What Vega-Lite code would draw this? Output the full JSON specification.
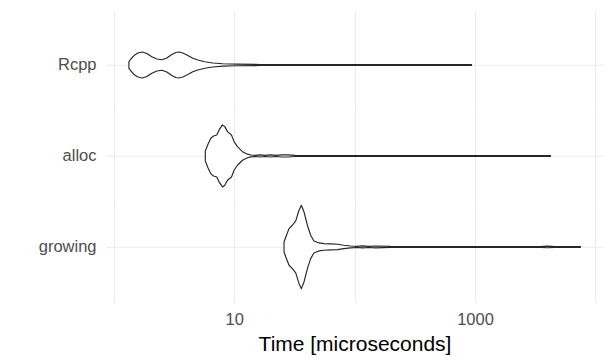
{
  "$schema": "https://vega.github.io/schema/vega-lite/v6.json",
  "background": "white",
  "padding": {"left": 38, "top": 10.7, "right": 5, "bottom": 5},
  "spacing": 0,
  "config": {
    "view": {"stroke": null},
    "font": "Liberation Sans",
    "axis": {
      "gridColor": "#ebebeb",
      "gridWidth": 1.1,
      "ticks": false,
      "domain": false,
      "labelColor": "#4d4d4d",
      "labelFontSize": 16.5,
      "labelFont": "Liberation Sans",
      "labelPadding": 10,
      "titleColor": "#000000",
      "titleFontSize": 21,
      "titleFontWeight": "normal",
      "titleFont": "Liberation Sans"
    }
  },
  "datasets": {
    "violin": [
      {"g": "Rcpp", "t": 1.332, "hi": 3.2, "lo": -3.2},
      {"g": "Rcpp", "t": 1.384, "hi": 6, "lo": -6},
      {"g": "Rcpp", "t": 1.48, "hi": 9.8, "lo": -9.8},
      {"g": "Rcpp", "t": 1.582, "hi": 12, "lo": -12},
      {"g": "Rcpp", "t": 1.724, "hi": 13, "lo": -13},
      {"g": "Rcpp", "t": 1.878, "hi": 11.5, "lo": -11.5},
      {"g": "Rcpp", "t": 2.067, "hi": 8.3, "lo": -8.3},
      {"g": "Rcpp", "t": 2.275, "hi": 6, "lo": -6},
      {"g": "Rcpp", "t": 2.502, "hi": 5.2, "lo": -5.2},
      {"g": "Rcpp", "t": 2.754, "hi": 7, "lo": -7},
      {"g": "Rcpp", "t": 3.029, "hi": 10.5, "lo": -10.5},
      {"g": "Rcpp", "t": 3.269, "hi": 12.5, "lo": -12.5},
      {"g": "Rcpp", "t": 3.462, "hi": 13, "lo": -13},
      {"g": "Rcpp", "t": 3.738, "hi": 12, "lo": -12},
      {"g": "Rcpp", "t": 4.113, "hi": 9.5, "lo": -9.5},
      {"g": "Rcpp", "t": 4.525, "hi": 6.8, "lo": -6.8},
      {"g": "Rcpp", "t": 4.979, "hi": 5, "lo": -5},
      {"g": "Rcpp", "t": 5.69, "hi": 3.2, "lo": -3.2},
      {"g": "Rcpp", "t": 6.632, "hi": 2, "lo": -2},
      {"g": "Rcpp", "t": 8.027, "hi": 1.2, "lo": -1.2},
      {"g": "Rcpp", "t": 10.29, "hi": 0.8, "lo": -0.8},
      {"g": "Rcpp", "t": 16.6, "hi": 0.5, "lo": -0.5},
      {"g": "Rcpp", "t": 92.6, "hi": 0.45, "lo": -0.45},
      {"g": "Rcpp", "t": 935, "hi": 0.4, "lo": -0.4},

      {"g": "alloc", "t": 5.745, "hi": 5, "lo": -5},
      {"g": "alloc", "t": 6.06, "hi": 12, "lo": -12},
      {"g": "alloc", "t": 6.38, "hi": 17.7, "lo": -17.7},
      {"g": "alloc", "t": 6.72, "hi": 20, "lo": -20},
      {"g": "alloc", "t": 7.16, "hi": 21, "lo": -21},
      {"g": "alloc", "t": 7.48, "hi": 26, "lo": -26},
      {"g": "alloc", "t": 7.98, "hi": 31, "lo": -31},
      {"g": "alloc", "t": 8.34, "hi": 29.3, "lo": -29.3},
      {"g": "alloc", "t": 8.78, "hi": 24.3, "lo": -24.3},
      {"g": "alloc", "t": 9.48, "hi": 21, "lo": -21},
      {"g": "alloc", "t": 9.96, "hi": 14.3, "lo": -14.3},
      {"g": "alloc", "t": 10.63, "hi": 9.3, "lo": -9.3},
      {"g": "alloc", "t": 11.7, "hi": 4.3, "lo": -4.3},
      {"g": "alloc", "t": 12.87, "hi": 1.8, "lo": -1.8},
      {"g": "alloc", "t": 13.71, "hi": 0.9, "lo": -0.9},
      {"g": "alloc", "t": 15, "hi": 0.6, "lo": -0.6},
      {"g": "alloc", "t": 16.5, "hi": 1.1, "lo": -1.1},
      {"g": "alloc", "t": 18, "hi": 0.6, "lo": -0.6},
      {"g": "alloc", "t": 20, "hi": 1.1, "lo": -1.1},
      {"g": "alloc", "t": 22, "hi": 0.6, "lo": -0.6},
      {"g": "alloc", "t": 25, "hi": 1.1, "lo": -1.1},
      {"g": "alloc", "t": 28, "hi": 1.1, "lo": -1.1},
      {"g": "alloc", "t": 32, "hi": 0.55, "lo": -0.55},
      {"g": "alloc", "t": 40, "hi": 0.45, "lo": -0.45},
      {"g": "alloc", "t": 4234, "hi": 0.4, "lo": -0.4},

      {"g": "growing", "t": 25.9, "hi": 5, "lo": -5},
      {"g": "growing", "t": 26.8, "hi": 10, "lo": -10},
      {"g": "growing", "t": 28.5, "hi": 18.3, "lo": -18.3},
      {"g": "growing", "t": 30.4, "hi": 21.7, "lo": -21.7},
      {"g": "growing", "t": 32.4, "hi": 26, "lo": -26},
      {"g": "growing", "t": 34.5, "hi": 36.7, "lo": -36.7},
      {"g": "growing", "t": 36.1, "hi": 41.7, "lo": -41.7},
      {"g": "growing", "t": 37.96, "hi": 35, "lo": -35},
      {"g": "growing", "t": 40.5, "hi": 21.7, "lo": -21.7},
      {"g": "growing", "t": 43.1, "hi": 11.7, "lo": -11.7},
      {"g": "growing", "t": 45.9, "hi": 6, "lo": -6},
      {"g": "growing", "t": 50.5, "hi": 4, "lo": -4},
      {"g": "growing", "t": 55.6, "hi": 3.3, "lo": -3.3},
      {"g": "growing", "t": 63.2, "hi": 3, "lo": -3},
      {"g": "growing", "t": 72.3, "hi": 2.7, "lo": -2.7},
      {"g": "growing", "t": 81, "hi": 1.7, "lo": -1.7},
      {"g": "growing", "t": 92.6, "hi": 0.9, "lo": -0.9},
      {"g": "growing", "t": 103.9, "hi": 0.6, "lo": -0.6},
      {"g": "growing", "t": 116.5, "hi": 1, "lo": -1},
      {"g": "growing", "t": 130.7, "hi": 0.6, "lo": -0.6},
      {"g": "growing", "t": 149.4, "hi": 0.9, "lo": -0.9},
      {"g": "growing", "t": 199, "hi": 0.5, "lo": -0.5},
      {"g": "growing", "t": 3500, "hi": 0.45, "lo": -0.45},
      {"g": "growing", "t": 4000, "hi": 0.8, "lo": -0.8},
      {"g": "growing", "t": 4600, "hi": 0.45, "lo": -0.45},
      {"g": "growing", "t": 7508, "hi": 0.4, "lo": -0.4}
    ]
  },
  "vconcat": [
    {
      "width": 497,
      "height": 99.55,
      "data": {"name": "violin"},
      "transform": [{"filter": "datum.g == 'Rcpp'"}],
      "mark": {"type": "area", "orient": "vertical", "fill": "white", "stroke": "#262626", "strokeWidth": 1.15, "strokeJoin": "round"},
      "encoding": {
        "x": {"field": "t", "type": "quantitative",
              "scale": {"type": "log", "domain": [0.86, 11560], "nice": false},
              "axis": {"values": [1, 10, 100, 1000, 10000], "labels": false, "title": null, "grid": true}},
        "y": {"field": "hi", "type": "quantitative",
              "scale": {"domain": [-45.25, 54.3], "nice": false, "zero": false},
              "axis": {"values": [0], "labelExpr": "'Rcpp'", "title": null, "grid": true}},
        "y2": {"field": "lo"}
      }
    },
    {
      "width": 497,
      "height": 90.5,
      "data": {"name": "violin"},
      "transform": [{"filter": "datum.g == 'alloc'"}],
      "mark": {"type": "area", "orient": "vertical", "fill": "white", "stroke": "#262626", "strokeWidth": 1.15, "strokeJoin": "round"},
      "encoding": {
        "x": {"field": "t", "type": "quantitative",
              "scale": {"type": "log", "domain": [0.86, 11560], "nice": false},
              "axis": {"values": [1, 10, 100, 1000, 10000], "labels": false, "title": null, "grid": true}},
        "y": {"field": "hi", "type": "quantitative",
              "scale": {"domain": [-45.25, 45.25], "nice": false, "zero": false},
              "axis": {"values": [0], "labelExpr": "'alloc'", "title": null, "grid": true}},
        "y2": {"field": "lo"}
      }
    },
    {
      "width": 497,
      "height": 99.55,
      "data": {"name": "violin"},
      "transform": [{"filter": "datum.g == 'growing'"}],
      "mark": {"type": "area", "orient": "vertical", "fill": "white", "stroke": "#262626", "strokeWidth": 1.15, "strokeJoin": "round"},
      "encoding": {
        "x": {"field": "t", "type": "quantitative",
              "scale": {"type": "log", "domain": [0.86, 11560], "nice": false},
              "axis": {"values": [1, 10, 100, 1000, 10000],
                       "labelExpr": "datum.value == 10 || datum.value == 1000 ? format(datum.value, 'd') : ''",
                       "title": "Time [microseconds]", "titlePadding": 6, "grid": true}},
        "y": {"field": "hi", "type": "quantitative",
              "scale": {"domain": [-54.3, 45.25], "nice": false, "zero": false},
              "axis": {"values": [0], "labelExpr": "'growing'", "title": null, "grid": true}},
        "y2": {"field": "lo"}
      }
    }
  ]
}
